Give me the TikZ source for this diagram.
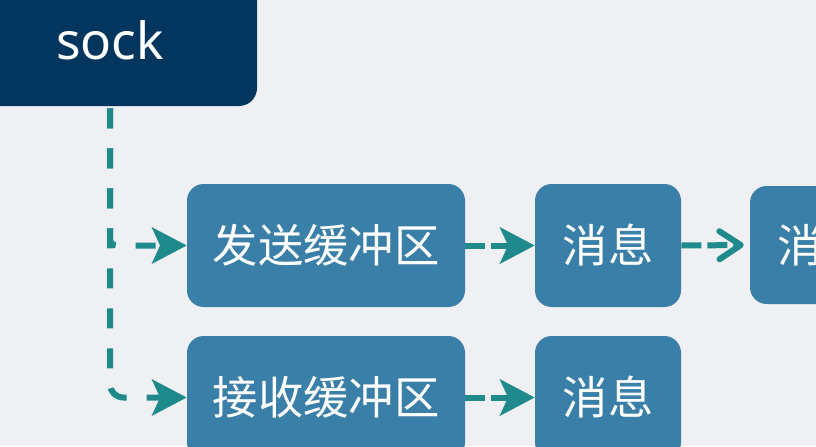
\documentclass[tikz,border=0pt]{standalone}
\usepackage{fontspec}
\setmainfont{Noto Sans}
\newfontfamily\cjk{Noto Sans CJK SC}
\usetikzlibrary{arrows.meta}
\definecolor{bgGray}{HTML}{EEF0F3}
\definecolor{sockNavy}{HTML}{03365E}
\definecolor{bufBlue}{HTML}{3A7FA8}
\definecolor{flowTeal}{HTML}{1F8A8C}
\tikzset{
  buf/.style={fill=bufBlue, text=white, rounded corners=12.5pt, minimum height=92.25pt,
    font=\cjk\fontsize{34}{40}\selectfont, inner sep=0pt},
  flow/.style={draw=flowTeal, line width=4.5pt, dash pattern=on 15pt off 15pt,
    rounded corners=8pt, -{Stealth[length=26pt, width=27pt, inset=6pt]}},
  link/.style={draw=flowTeal, line width=4.5pt, dash pattern=on 15pt off 4.5pt,
    -{Stealth[length=26pt, width=27pt, inset=6pt]}}
}
\begin{document}
\begin{tikzpicture}[x=0.75pt, y=-0.75pt]
  \useasboundingbox (0,0) rectangle (816,446);
  \clip (0,0) rectangle (816,446);
  \fill[bgGray] (0,0) rectangle (816,446);
  % socket and its two buffers
  \node[fill=sockNavy, text=white, rounded corners=13.5pt, minimum width=220.5pt,
    minimum height=99pt, font=\fontsize{38.5}{44}\selectfont] (sock) at (110,40) {sock};
  \node[buf, minimum width=208.5pt] (sendbuf) at (326,245.5) {发送缓冲区};
  \node[buf, minimum width=109.5pt] (msgA) at (608,245.5) {消息};
  \node[buf, minimum width=109.5pt, minimum height=88.5pt] (msgB) at (823,245) {消息};
  \node[buf, minimum width=208.5pt] (recvbuf) at (326,397.5) {接收缓冲区};
  \node[buf, minimum width=109.5pt] (msgC) at (608,397.5) {消息};
  % dashed connectors
  \draw[flow, rounded corners=5pt] ([yshift=-1.5pt]sock.south) |- (sendbuf.west);
  \draw[flow, rounded corners=10pt] ([yshift=-1.5pt]sock.south) |- (recvbuf.west);
  \draw[link] (sendbuf.east) -- (msgA.west);
  \draw[link, shorten >=4.5pt, -{Straight Barb[length=16pt, width=21pt, line width=4.5pt, round]}] (msgA.east) -- (msgB.west);
  \draw[link] (recvbuf.east) -- (msgC.west);
\end{tikzpicture}
\end{document}
